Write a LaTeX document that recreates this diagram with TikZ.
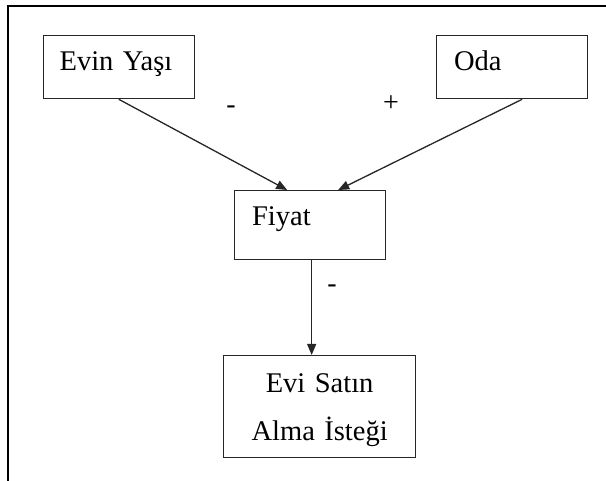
\documentclass[tikz,border=0pt]{standalone}
\usepackage{fontspec}
\setmainfont{Liberation Serif}
\usetikzlibrary{arrows.meta}
\begin{document}
\begin{tikzpicture}[x=1pt,y=-1pt,
  box/.style={draw=black!85, line width=1.3pt, inner ysep=0pt, font=\fontsize{28.5}{48}\selectfont, anchor=north west},
  lbl/.style={font=\fontsize{28}{32}\selectfont, anchor=base, inner sep=0pt},
  conn/.style={draw=black!85, line width=1.3pt, -{Triangle[length=11pt,width=9pt]}},
  frame/.style={draw=black, line width=2pt}
]
\useasboundingbox (0,0) rectangle (606,481);
\draw[frame] (8,481) -- (8,6) -- (606,6);
\node[box, inner xsep=16.3pt, text width=118.3pt, text height=35pt, text depth=28pt, align=left] (evin) at (42.7,35) {Evin Yaşı};
\node[box, inner xsep=17.5pt, text width=116pt, text height=35pt, text depth=28pt, align=left] (oda) at (436,35) {Oda};
\node[box, inner xsep=17.5pt, text width=116pt, text height=35pt, text depth=34pt, align=left] (fiyat) at (234,190) {Fiyat};
\node[box, inner xsep=5pt, text width=182pt, text height=37pt, text depth=65pt, align=center] (evi) at (223,355) {Evi Satın\\Alma İsteği};
\draw[conn] (evin.south) -- ([xshift=-23pt]fiyat.north);
\draw[conn] ([xshift=10pt]oda.south) -- ([xshift=28pt]fiyat.north);
\draw[conn] ([xshift=1.5pt]fiyat.south) -- ([xshift=1.5pt]fiyat.south |- evi.north);
\node[lbl] (m1) at (231,114) {-};
\node[lbl] (p1) at (391,112) {+};
\node[lbl] (m2) at (332,293) {-};
\end{tikzpicture}
\end{document}
